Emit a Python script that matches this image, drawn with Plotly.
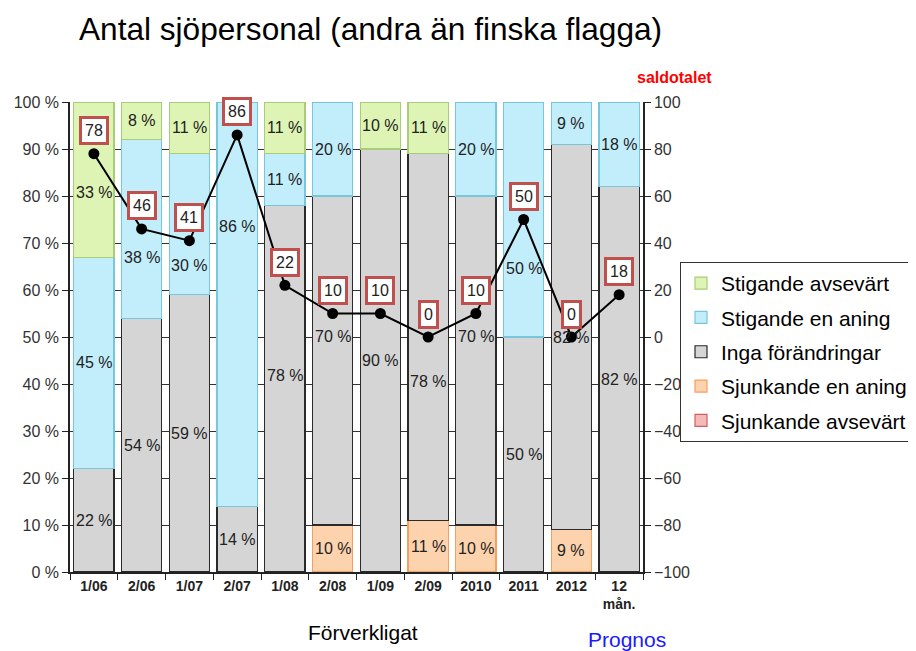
import plotly.graph_objects as go

categories = ["1/06", "2/06", "1/07", "2/07", "1/08", "2/08", "1/09", "2/09", "2010", "2011", "2012",
              "12<br><span style='font-size:14px'>mån.</span>"]
sjunkande_avsevart = [0, 0, 0, 0, 0, 0, 0, 0, 0, 0, 0, 0]
sjunkande_en_aning = [0, 0, 0, 0, 0, 10, 0, 11, 10, 0, 9, 0]
inga_forandringar = [22, 54, 59, 14, 78, 70, 90, 78, 70, 50, 82, 82]
stigande_en_aning = [45, 38, 30, 86, 11, 20, 0, 0, 20, 50, 9, 18]
stigande_avsevart = [33, 8, 11, 0, 11, 0, 10, 11, 0, 0, 0, 0]
saldotal = [78, 46, 41, 86, 22, 10, 10, 0, 10, 50, 0, 18]

FONT = "Liberation Sans, Arial, sans-serif"
OFF = 8  # page body margin around the plot div

series = [
    ("Sjunkande avsevärt", sjunkande_avsevart, "#f5b9b9", "#d06060", 5),
    ("Sjunkande en aning", sjunkande_en_aning, "#fdd3ad", "#f5a060", 4),
    ("Inga förändringar", inga_forandringar, "#d5d5d5", "#2a2a2a", 3),
    ("Stigande en aning", stigande_en_aning, "#c2eefb", "#78c6dc", 2),
    ("Stigande avsevärt", stigande_avsevart, "#def4b4", "#a8cc78", 1),
]

# pixel nudges of a few segment labels, as placed in the original chart (series name, category index)
label_nudge = {
    ("Stigande avsevärt", 0): -13,
    ("Stigande en aning", 1): -29,
    ("Stigande en aning", 2): -41,
    ("Stigande en aning", 3): 78,
    ("Inga förändringar", 4): 13,
    ("Inga förändringar", 5): 24,
    ("Inga förändringar", 7): -44,
    ("Inga förändringar", 8): 24,
    ("Stigande en aning", 9): -49,
}

fig = go.Figure()
base = [0] * len(categories)
for name, vals, fill, line, rank in series:
    fig.add_trace(go.Bar(
        name=name,
        x=list(range(len(categories))),
        y=[v if v else None for v in vals],
        marker=dict(color=fill, line=dict(color=line, width=1.2)),
        legendgroup=name,
        legendrank=rank,
        hoverinfo="skip",
    ))
    for i, v in enumerate(vals):
        if v:
            fig.add_annotation(
                x=i, y=base[i] + v / 2, xref="x", yref="y", text=f"{v} %", showarrow=False,
                yshift=label_nudge.get((name, i), 0),
                font=dict(size=16, color="#222222", family=FONT),
            )
        base[i] += v

fig.add_trace(go.Scatter(
    x=list(range(len(categories))), y=saldotal, yaxis="y2", mode="lines+markers",
    line=dict(color="black", width=2),
    marker=dict(color="black", size=11),
    showlegend=False, hoverinfo="skip",
))

for i, v in enumerate(saldotal):
    fig.add_annotation(
        x=i, y=v, xref="x", yref="y2", text=str(v), showarrow=False,
        yshift=23, font=dict(size=16, color="#222222", family=FONT),
        bgcolor="white", bordercolor="#c0504d", borderwidth=3, borderpad=3,
    )

fig.add_annotation(x=(363 - 70) / 573, y=-(632 - 572) / 470, xref="paper", yref="paper", text="Förverkligat",
                   showarrow=False, font=dict(size=21, color="black", family=FONT),
                   xanchor="center", yanchor="middle")
fig.add_annotation(x=(627 - 70) / 573, y=-(639 - 572) / 470, xref="paper", yref="paper", text="Prognos",
                   showarrow=False, font=dict(size=21, color="#1a1aff", family=FONT),
                   xanchor="center", yanchor="middle")
fig.add_annotation(x=(674 - 70) / 573, y=(572 - 78) / 470, xref="paper", yref="paper", text="<b>saldotalet</b>",
                   showarrow=False, font=dict(size=16, color="#ff0000", family=FONT),
                   xanchor="center", yanchor="middle")

W, H = 916 - OFF, 651 - OFF
fig.update_layout(
    width=W, height=H,
    margin=dict(l=70 - OFF, r=W - (643 - OFF), t=102 - OFF, b=H - (572 - OFF), autoexpand=False),
    paper_bgcolor="white", plot_bgcolor="white",
    barmode="stack", bargap=0.16,
    title=dict(text="Antal sjöpersonal (andra än finska flagga)", x=(79 - OFF) / W, xanchor="left",
               y=1 - (29 - OFF) / H, yanchor="middle",
               font=dict(size=31.6, color="black", family=FONT)),
    font=dict(family=FONT, color="#333333"),
    xaxis=dict(range=[-0.5, len(categories) - 0.5], tickmode="array",
               tickvals=list(range(len(categories))), ticktext=categories,
               ticks="", showline=True, linecolor="#222", linewidth=1.5, tickangle=0, automargin=False,
               minor=dict(tickmode="array", tickvals=[i - 0.5 for i in range(len(categories) + 1)],
                          ticks="outside", ticklen=6, tickcolor="#222", showgrid=False),
               tickfont=dict(size=14, color="#222222", family="Liberation Sans, Arial", weight="bold"),
               showgrid=False, zeroline=False),
    yaxis=dict(range=[0, 100], dtick=10, ticksuffix=" %", ticks="outside", ticklen=6, tickcolor="#222",
               showline=True, linecolor="#222", linewidth=1.5, showgrid=True, gridcolor="#333333",
               gridwidth=1, tickfont=dict(size=16, color="#333333"), zeroline=False, automargin=False),
    yaxis2=dict(range=[-100, 100], dtick=20, overlaying="y", side="right", ticks="outside", ticklen=6,
                tickcolor="#222", showline=True, linecolor="#222", linewidth=1.5, showgrid=False,
                zeroline=False, tickfont=dict(size=16, color="#333333"), automargin=False),
    legend=dict(x=(680 - 70) / 573, y=(572 - 262) / 470, xanchor="left", yanchor="top",
                traceorder="grouped", tracegroupgap=4, itemwidth=30,
                bordercolor="#333333", borderwidth=1, bgcolor="white",
                font=dict(size=21, color="black", family=FONT)),
    showlegend=True,
)

fig.write_html("out.html")
